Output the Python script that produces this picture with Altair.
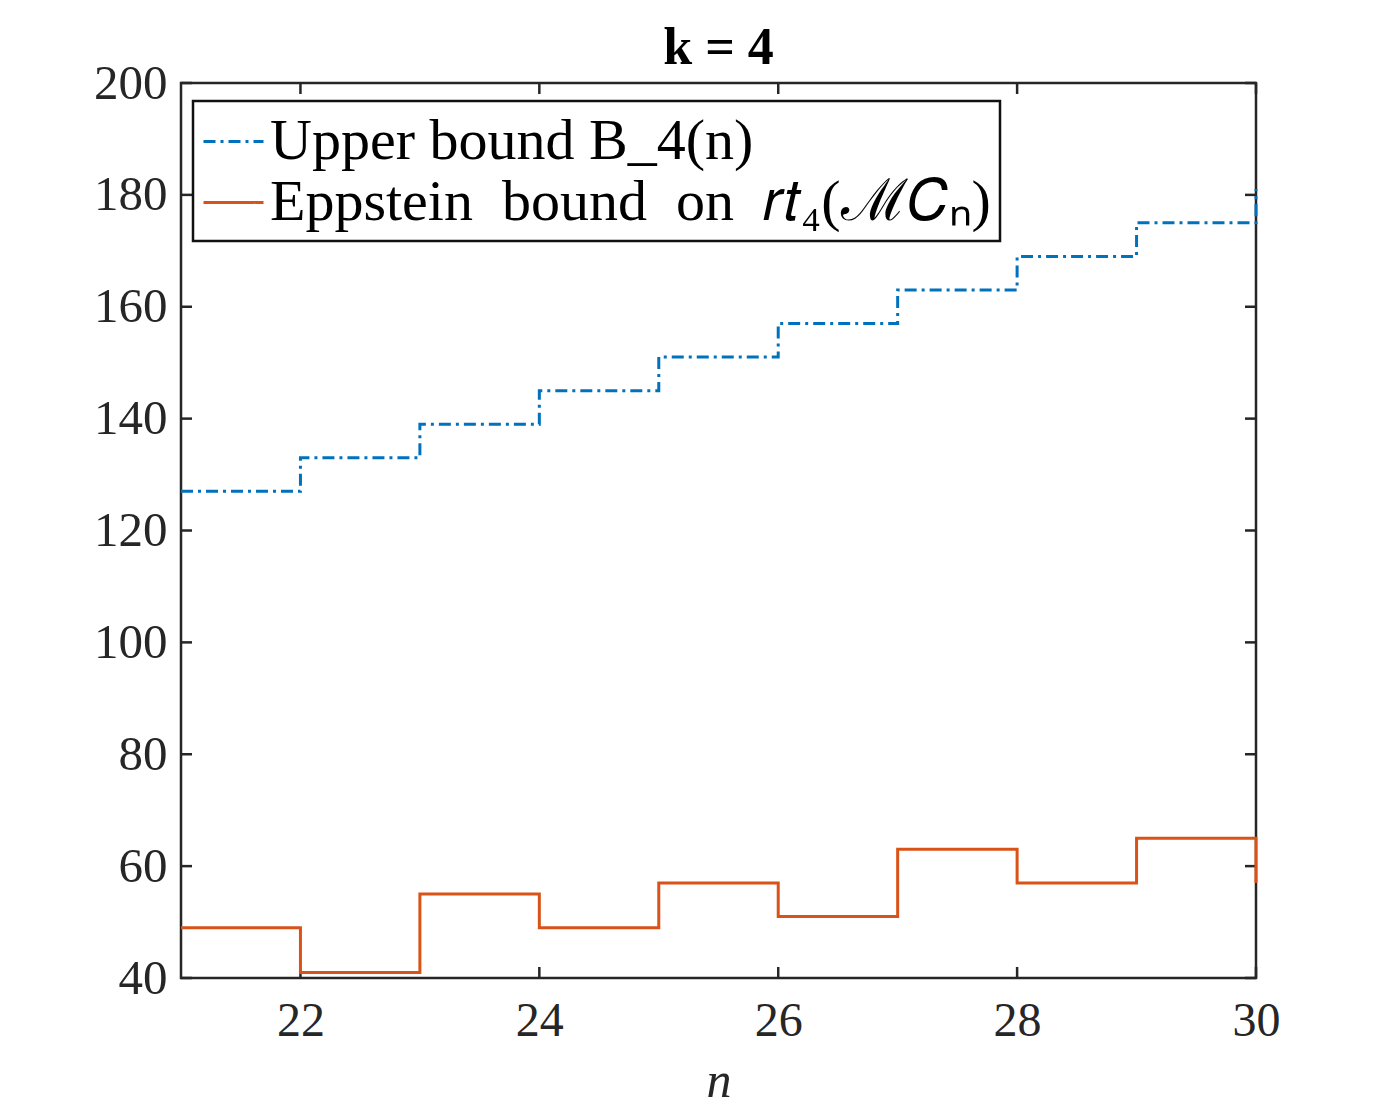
import altair as alt
import pandas as pd

# ---- data ----
n_values = [21, 22, 23, 24, 25, 26, 27, 28, 29, 30]
upper_bound = [127, 133, 139, 145, 151, 157, 163, 169, 175, 181]
eppstein_bound = [49, 41, 55, 49, 57, 51, 63, 57, 65, 57]
x_ticks = [22, 24, 26, 28, 30]
y_ticks = [40, 60, 80, 100, 120, 140, 160, 180, 200]
series_names = ["Upper bound B_4(n)", "Eppstein\u2002bound\u2002on\u2002𝑟𝑡₄(ℳ𝐶ₙ)"]
series_colors = ["#0072BD", "#D95319"]

W, H = 1075, 895
FONT = "Liberation Serif, Times New Roman, Times, serif"
INK = "#262626"

lines = pd.DataFrame({
    "n": n_values * 2,
    "value": upper_bound + eppstein_bound,
    "series": [series_names[0]] * len(n_values) + [series_names[1]] * len(n_values),
})
xt = pd.DataFrame({"xt": x_ticks})
yt = pd.DataFrame({"yt": y_ticks})

x_scale = alt.Scale(domain=[21, 30], nice=False, zero=False)
y_scale = alt.Scale(domain=[40, 200], nice=False, zero=False)
x_axis = alt.Axis(values=x_ticks, ticks=False, domain=False, grid=False, title="n",
                  labelFont=FONT, labelFontSize=48, labelColor=INK, labelPadding=19,
                  titleFont=FONT, titleFontSize=50, titleFontStyle="italic",
                  titleFontWeight="normal", titleColor=INK, titlePadding=11,
                  labelFlush=False)
y_axis = alt.Axis(values=y_ticks, ticks=False, domain=False, grid=False, title=None,
                  labelFont=FONT, labelFontSize=49, labelColor=INK, labelPadding=14,
                  labelFlush=False)

line_layer = alt.Chart(lines).mark_line(interpolate="step-after", strokeWidth=3).encode(
    x=alt.X("n:Q", scale=x_scale, axis=x_axis),
    y=alt.Y("value:Q", scale=y_scale, axis=y_axis),
    color=alt.Color("series:N", scale=alt.Scale(domain=series_names, range=series_colors),
                    legend=alt.Legend(title=None, orient="none", legendX=12, legendY=18,
                                      symbolType="stroke", symbolSize=3600,
                                      symbolStrokeWidth=3, labelFont=FONT,
                                      labelFontSize=58, labelColor="black", labelLimit=2000,
                                      labelOffset=5, strokeColor="#111111", fillColor="white",
                                      padding=9, rowPadding=0)),
    strokeDash=alt.StrokeDash("series:N",
                              scale=alt.Scale(domain=series_names, range=[[12, 5, 3, 5], [1, 0]]),
                              legend=None),
)

tick_len = 11
bottom_ticks = alt.Chart(xt).mark_rule(color=INK, strokeWidth=2.5).encode(
    x=alt.X("xt:Q", scale=x_scale, axis=x_axis), y=alt.value(H), y2=alt.value(H - tick_len))
top_ticks = alt.Chart(xt).mark_rule(color=INK, strokeWidth=2.5).encode(
    x=alt.X("xt:Q", scale=x_scale, axis=x_axis), y=alt.value(0), y2=alt.value(tick_len))
left_ticks = alt.Chart(yt).mark_rule(color=INK, strokeWidth=2.5).encode(
    y=alt.Y("yt:Q", scale=y_scale, axis=y_axis), x=alt.value(0), x2=alt.value(tick_len))
right_ticks = alt.Chart(yt).mark_rule(color=INK, strokeWidth=2.5).encode(
    y=alt.Y("yt:Q", scale=y_scale, axis=y_axis), x=alt.value(W), x2=alt.value(W - tick_len))

chart = alt.layer(bottom_ticks, top_ticks, left_ticks, right_ticks, line_layer).properties(
    width=W, height=H,
    title=alt.TitleParams("k = 4", font=FONT, fontSize=52, fontWeight="bold",
                          color="black", anchor="middle", offset=-16),
    autosize=alt.AutoSizeParams(type="none"),
    padding={"left": 173, "top": 75, "right": 100, "bottom": 130},
).configure(
    background="white",
    view=alt.ViewConfig(stroke=INK, strokeWidth=2.5),
    legend=alt.LegendConfig(strokeWidth=2.5),
)

chart.save("out.html", embed_options={"renderer": "svg", "actions": False})
